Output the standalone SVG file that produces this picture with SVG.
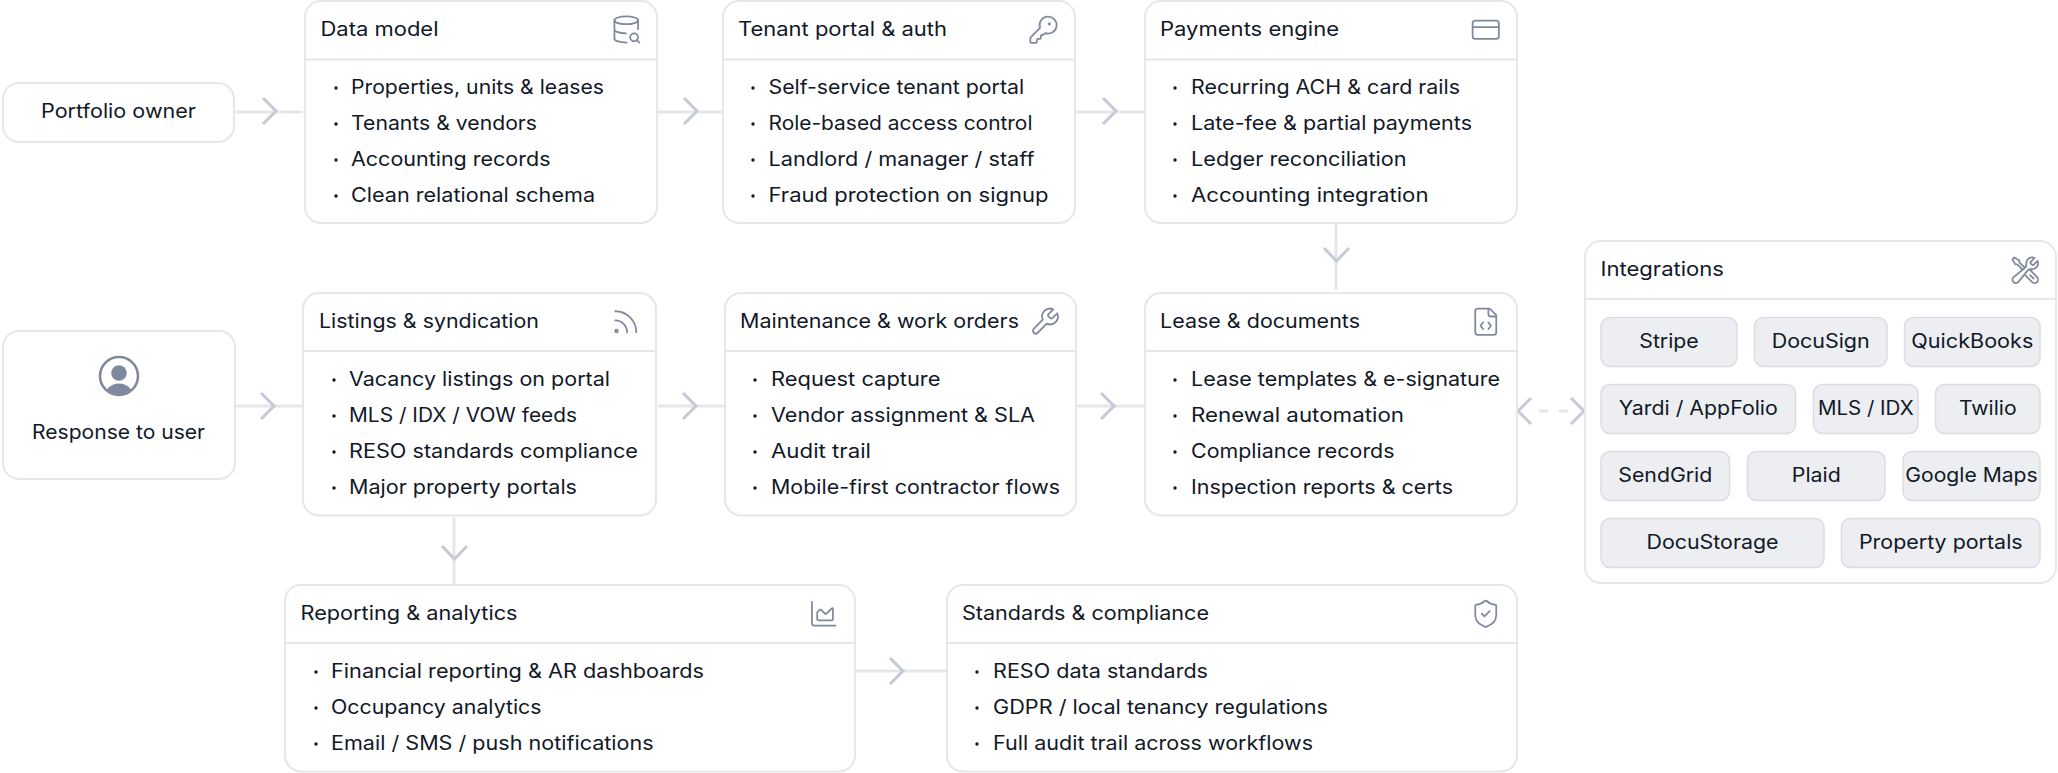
<svg xmlns="http://www.w3.org/2000/svg" width="2058" height="773" viewBox="0 0 2058 773">
<style>
text{font-family:Inter,"Noto Sans","Liberation Sans",sans-serif;font-size:19.5px;fill:#111827}
.m{text-anchor:middle}
.card{fill:#fff;stroke:#e5e7eb;stroke-width:2}
.div{stroke:#e5e7eb;stroke-width:2;fill:none}
.chip{fill:#eceef1;stroke:#dadde4;stroke-width:1.5}
.dot{fill:#111827}
.line{stroke:#e5e7eb;stroke-width:3;fill:none}
.dash{stroke:#e5e7eb;stroke-width:3;fill:none;stroke-dasharray:9 11}
.chev{stroke:#c5cad6;stroke-width:3;fill:none}
.ic{fill:none;stroke:#7f899e;stroke-width:1.350;stroke-linecap:round;stroke-linejoin:round}
</style>
<defs>
<clipPath id="uc"><circle cx="119" cy="376" r="18"/></clipPath>
</defs>
<g id="connectors">
<path class="line" d="M235 112H303"/><path class="chev" d="M263 98L276 111L263 124"/>
<path class="line" d="M658 112H722"/><path class="chev" d="M684 98L697 111L684 124"/>
<path class="line" d="M1076 112H1144"/><path class="chev" d="M1103 98L1116 111L1103 124"/>
<path class="line" d="M1336 224V290"/><path class="chev" d="M1324 248L1336.500 261L1349 248"/>
<path class="line" d="M236 406H302"/><path class="chev" d="M261 393L274 406L261 419"/>
<path class="line" d="M658 406H724"/><path class="chev" d="M683 393L696 406L683 419"/>
<path class="line" d="M1077 406H1144"/><path class="chev" d="M1101 393L1114 406L1101 419"/>
<path class="line" d="M454 517V584"/><path class="chev" d="M442 546L454.500 559L467 546"/>
<path class="line" d="M856 671H946"/><path class="chev" d="M890 658L903 671L890 684"/>
<path class="dash" d="M1539 411H1568"/><path class="chev" d="M1531 398L1518 411L1531 424"/><path class="chev" d="M1571 398L1584 411L1571 424"/>
</g>
<g id="portfolio-owner"><rect class="card" x="3" y="83" width="231" height="59" rx="16"/><text class="m" lengthAdjust="spacingAndGlyphs" x="118.500" y="118" textLength="155">Portfolio owner</text></g>
<g id="response-to-user"><rect class="card" x="3" y="331" width="232" height="148" rx="16"/>
<circle cx="119" cy="376" r="19" fill="none" stroke="#7f899e" stroke-width="2.600"/>
<circle cx="119" cy="373" r="7.800" fill="#7f899e"/>
<g clip-path="url(#uc)"><ellipse cx="119" cy="397" rx="14.500" ry="13.500" fill="#7f899e"/></g>
<text class="m" lengthAdjust="spacingAndGlyphs" x="118.500" y="439" textLength="173">Response to user</text></g>

<g id="data-model"><rect class="card" x="305" y="1" width="352" height="222" rx="16"/><path class="div" d="M305 59.500H657"/>
<text lengthAdjust="spacingAndGlyphs" x="320.500" y="36" textLength="118">Data model</text>
<g class="ic" transform="translate(610.500 13.700) scale(1.3125)"><path d="M21 11.693V5M22 22l-1.875-1.875M3 12a9 3 0 0 0 8.697 2.998M3 5v14a9 3 0 0 0 9.280 2.999"/><circle cx="18" cy="18" r="3"/><ellipse cx="12" cy="5" rx="9" ry="3"/></g>
<circle class="dot" cx="336" cy="88" r="1.700"/><text lengthAdjust="spacingAndGlyphs" x="351" y="94" textLength="253">Properties, units &amp; leases</text>
<circle class="dot" cx="336" cy="124" r="1.700"/><text lengthAdjust="spacingAndGlyphs" x="351" y="130" textLength="186">Tenants &amp; vendors</text>
<circle class="dot" cx="336" cy="160" r="1.700"/><text lengthAdjust="spacingAndGlyphs" x="351" y="166" textLength="199.500">Accounting records</text>
<circle class="dot" cx="336" cy="196" r="1.700"/><text lengthAdjust="spacingAndGlyphs" x="351" y="202" textLength="244">Clean relational schema</text></g>

<g id="tenant-portal"><rect class="card" x="723" y="1" width="352" height="222" rx="16"/><path class="div" d="M723 59.500H1075"/>
<text lengthAdjust="spacingAndGlyphs" x="738" y="36" textLength="209">Tenant portal &amp; auth</text>
<g class="ic" transform="translate(1027.700 14) scale(1.3125)"><path d="M2.586 17.414A2 2 0 0 0 2 18.828V21a1 1 0 0 0 1 1h3a1 1 0 0 0 1-1v-1a1 1 0 0 1 1-1h1a1 1 0 0 0 1-1v-1a1 1 0 0 1 1-1h.172a2 2 0 0 0 1.414-.586l.814-.814a6.500 6.500 0 1 0-4-4z"/><circle cx="16.500" cy="7.500" r=".5"/></g>
<circle class="dot" cx="753" cy="88" r="1.700"/><text lengthAdjust="spacingAndGlyphs" x="768.500" y="94" textLength="255.600">Self-service tenant portal</text>
<circle class="dot" cx="753" cy="124" r="1.700"/><text lengthAdjust="spacingAndGlyphs" x="768.500" y="130" textLength="264">Role-based access control</text>
<circle class="dot" cx="753" cy="160" r="1.700"/><text lengthAdjust="spacingAndGlyphs" x="768.500" y="166" textLength="266">Landlord / manager / staff</text>
<circle class="dot" cx="753" cy="196" r="1.700"/><text lengthAdjust="spacingAndGlyphs" x="768.500" y="202" textLength="280">Fraud protection on signup</text></g>

<g id="payments-engine"><rect class="card" x="1145" y="1" width="372" height="222" rx="16"/><path class="div" d="M1145 59.500H1517"/>
<text lengthAdjust="spacingAndGlyphs" x="1160" y="36" textLength="179">Payments engine</text>
<g class="ic" transform="translate(1470 14) scale(1.3125)"><rect x="2" y="5" width="20" height="14" rx="2"/><path d="M2 10h20"/></g>
<circle class="dot" cx="1175" cy="88" r="1.700"/><text lengthAdjust="spacingAndGlyphs" x="1191" y="94" textLength="269">Recurring ACH &amp; card rails</text>
<circle class="dot" cx="1175" cy="124" r="1.700"/><text lengthAdjust="spacingAndGlyphs" x="1191" y="130" textLength="281">Late-fee &amp; partial payments</text>
<circle class="dot" cx="1175" cy="160" r="1.700"/><text lengthAdjust="spacingAndGlyphs" x="1191" y="166" textLength="215.600">Ledger reconciliation</text>
<circle class="dot" cx="1175" cy="196" r="1.700"/><text lengthAdjust="spacingAndGlyphs" x="1191" y="202" textLength="237.500">Accounting integration</text></g>

<g id="listings"><rect class="card" x="303" y="293" width="353" height="222.500" rx="16"/><path class="div" d="M303 351H656"/>
<text lengthAdjust="spacingAndGlyphs" x="319" y="328" textLength="220">Listings &amp; syndication</text>
<g class="ic" transform="translate(610 306) scale(1.3125)"><path d="M4 11a9 9 0 0 1 9 9M4 4a16 16 0 0 1 16 16"/><circle cx="5" cy="19" r="1"/></g>
<circle class="dot" cx="334" cy="380" r="1.700"/><text lengthAdjust="spacingAndGlyphs" x="349" y="386" textLength="261">Vacancy listings on portal</text>
<circle class="dot" cx="334" cy="416" r="1.700"/><text lengthAdjust="spacingAndGlyphs" x="349" y="422" textLength="228">MLS / IDX / VOW feeds</text>
<circle class="dot" cx="334" cy="452" r="1.700"/><text lengthAdjust="spacingAndGlyphs" x="349" y="458" textLength="289">RESO standards compliance</text>
<circle class="dot" cx="334" cy="488" r="1.700"/><text lengthAdjust="spacingAndGlyphs" x="349" y="494" textLength="228">Major property portals</text></g>

<g id="maintenance"><rect class="card" x="725" y="293" width="351" height="222.500" rx="16"/><path class="div" d="M725 351H1076"/>
<text lengthAdjust="spacingAndGlyphs" x="740" y="328" textLength="279">Maintenance &amp; work orders</text>
<g class="ic" transform="translate(1029 306) scale(1.3125)"><path d="M14.700 6.300a1 1 0 0 0 0 1.400l1.600 1.600a1 1 0 0 0 1.400 0l3.770-3.770a6 6 0 0 1-7.940 7.940l-6.910 6.910a2.120 2.120 0 0 1-3-3l6.910-6.910a6 6 0 0 1 7.940-7.940l-3.760 3.760z"/></g>
<circle class="dot" cx="755" cy="380" r="1.700"/><text lengthAdjust="spacingAndGlyphs" x="771" y="386" textLength="169.500">Request capture</text>
<circle class="dot" cx="755" cy="416" r="1.700"/><text lengthAdjust="spacingAndGlyphs" x="771" y="422" textLength="264">Vendor assignment &amp; SLA</text>
<circle class="dot" cx="755" cy="452" r="1.700"/><text lengthAdjust="spacingAndGlyphs" x="771" y="458" textLength="100">Audit trail</text>
<circle class="dot" cx="755" cy="488" r="1.700"/><text lengthAdjust="spacingAndGlyphs" x="771" y="494" textLength="289">Mobile-first contractor flows</text></g>

<g id="lease-documents"><rect class="card" x="1145" y="293" width="372" height="222.500" rx="16"/><path class="div" d="M1145 351H1517"/>
<text lengthAdjust="spacingAndGlyphs" x="1160" y="328" textLength="200">Lease &amp; documents</text>
<g class="ic" transform="translate(1470 306) scale(1.3125)"><path d="M10 12.500 8 15l2 2.500M14 12.500l2 2.500-2 2.500M14 2v4a2 2 0 0 0 2 2h4M15 2H6a2 2 0 0 0-2 2v16a2 2 0 0 0 2 2h12a2 2 0 0 0 2-2V7z"/></g>
<circle class="dot" cx="1175" cy="380" r="1.700"/><text lengthAdjust="spacingAndGlyphs" x="1191" y="386" textLength="309">Lease templates &amp; e-signature</text>
<circle class="dot" cx="1175" cy="416" r="1.700"/><text lengthAdjust="spacingAndGlyphs" x="1191" y="422" textLength="213">Renewal automation</text>
<circle class="dot" cx="1175" cy="452" r="1.700"/><text lengthAdjust="spacingAndGlyphs" x="1191" y="458" textLength="203.500">Compliance records</text>
<circle class="dot" cx="1175" cy="488" r="1.700"/><text lengthAdjust="spacingAndGlyphs" x="1191" y="494" textLength="262">Inspection reports &amp; certs</text></g>

<g id="reporting"><rect class="card" x="285" y="585" width="570" height="186.500" rx="16"/><path class="div" d="M285 643H855"/>
<text lengthAdjust="spacingAndGlyphs" x="300.500" y="620" textLength="217">Reporting &amp; analytics</text>
<g class="ic" transform="translate(808 598) scale(1.3125)"><path d="M3 3v16a2 2 0 0 0 2 2h16M7 11.207a.5.5 0 0 1 .146-.353l2-2a.5.5 0 0 1 .708 0l3.292 3.292a.5.5 0 0 0 .708 0l4.292-4.292a.5.5 0 0 1 .854.353V16a1 1 0 0 1-1 1H8a1 1 0 0 1-1-1z"/></g>
<circle class="dot" cx="316" cy="672" r="1.700"/><text lengthAdjust="spacingAndGlyphs" x="331" y="678" textLength="373">Financial reporting &amp; AR dashboards</text>
<circle class="dot" cx="316" cy="708" r="1.700"/><text lengthAdjust="spacingAndGlyphs" x="331" y="714" textLength="210.500">Occupancy analytics</text>
<circle class="dot" cx="316" cy="744" r="1.700"/><text lengthAdjust="spacingAndGlyphs" x="331" y="750" textLength="322.600">Email / SMS / push notifications</text></g>

<g id="standards"><rect class="card" x="947" y="585" width="570" height="186.500" rx="16"/><path class="div" d="M947 643H1517"/>
<text lengthAdjust="spacingAndGlyphs" x="962" y="620" textLength="247">Standards &amp; compliance</text>
<g class="ic" transform="translate(1470 598) scale(1.3125)"><path d="M20 13c0 5-3.500 7.500-7.660 8.950a1 1 0 0 1-.67-.01C7.500 20.500 4 18 4 13V6a1 1 0 0 1 1-1c2 0 4.500-1.200 6.240-2.720a1.170 1.170 0 0 1 1.520 0C14.510 3.810 17 5 19 5a1 1 0 0 1 1 1zM9 12l2 2 4-4"/></g>
<circle class="dot" cx="977" cy="672" r="1.700"/><text lengthAdjust="spacingAndGlyphs" x="993" y="678" textLength="215">RESO data standards</text>
<circle class="dot" cx="977" cy="708" r="1.700"/><text lengthAdjust="spacingAndGlyphs" x="993" y="714" textLength="335">GDPR / local tenancy regulations</text>
<circle class="dot" cx="977" cy="744" r="1.700"/><text lengthAdjust="spacingAndGlyphs" x="993" y="750" textLength="320">Full audit trail across workflows</text></g>

<g id="integrations"><rect class="card" x="1585" y="241" width="471" height="342" rx="16"/><path class="div" d="M1585 299H2056"/>
<text lengthAdjust="spacingAndGlyphs" x="1600.500" y="276" textLength="123.500">Integrations</text>
<g class="ic" transform="translate(2009.500 254.500) scale(1.3125)"><path d="M11.420 15.170 17.250 21A2.652 2.652 0 0 0 21 17.250l-5.877-5.877M11.420 15.170l2.496-3.030c.317-.384.740-.626 1.208-.766M11.420 15.170l-4.655 5.653a2.548 2.548 0 1 1-3.586-3.586l6.837-5.630m5.108-.233c.550-.164 1.163-.188 1.743-.140a4.500 4.500 0 0 0 4.486-6.336l-3.276 3.277a3.004 3.004 0 0 1-2.250-2.250l3.276-3.276a4.500 4.500 0 0 0-6.336 4.486c.091 1.076-.071 2.264-.904 2.950l-.102.085m-1.745 1.437L5.909 7.500H4.500L2.250 3.750l1.500-1.500L7.500 4.500v1.409l4.260 4.260m-1.745 1.437 1.745-1.437m6.615 8.206L15.750 15.750"/></g>
<g id="chip-stripe"><rect class="chip" x="1601" y="317.500" width="136" height="49" rx="9"/><text class="m" lengthAdjust="spacingAndGlyphs" x="1669" y="347.500" textLength="59.400">Stripe</text></g>
<g id="chip-docusign"><rect class="chip" x="1754.500" y="317.500" width="132.500" height="49" rx="9"/><text class="m" lengthAdjust="spacingAndGlyphs" x="1820.700" y="347.500" textLength="98">DocuSign</text></g>
<g id="chip-quickbooks"><rect class="chip" x="1904.500" y="317.500" width="135.500" height="49" rx="9"/><text class="m" lengthAdjust="spacingAndGlyphs" x="1972.300" y="347.500" textLength="122">QuickBooks</text></g>
<g id="chip-yardi"><rect class="chip" x="1601" y="384.500" width="194.500" height="49" rx="9"/><text class="m" lengthAdjust="spacingAndGlyphs" x="1698.300" y="414.500" textLength="159">Yardi / AppFolio</text></g>
<g id="chip-mls"><rect class="chip" x="1813.500" y="384.500" width="104.500" height="49" rx="9"/><text class="m" lengthAdjust="spacingAndGlyphs" x="1865.800" y="414.500" textLength="95.700">MLS / IDX</text></g>
<g id="chip-twilio"><rect class="chip" x="1935.500" y="384.500" width="104.500" height="49" rx="9"/><text class="m" lengthAdjust="spacingAndGlyphs" x="1987.800" y="414.500" textLength="57.600">Twilio</text></g>
<g id="chip-sendgrid"><rect class="chip" x="1601" y="451.500" width="128.500" height="49" rx="9"/><text class="m" lengthAdjust="spacingAndGlyphs" x="1665.300" y="481.500" textLength="94">SendGrid</text></g>
<g id="chip-plaid"><rect class="chip" x="1747.500" y="451.500" width="137.500" height="49" rx="9"/><text class="m" lengthAdjust="spacingAndGlyphs" x="1816.300" y="481.500" textLength="49">Plaid</text></g>
<g id="chip-gmaps"><rect class="chip" x="1903" y="451.500" width="137" height="49" rx="9"/><text class="m" lengthAdjust="spacingAndGlyphs" x="1971.500" y="481.500" textLength="132.400">Google Maps</text></g>
<g id="chip-docustorage"><rect class="chip" x="1601" y="518.500" width="223" height="49" rx="9"/><text class="m" lengthAdjust="spacingAndGlyphs" x="1712.500" y="548.500" textLength="132">DocuStorage</text></g>
<g id="chip-portals"><rect class="chip" x="1841.500" y="518.500" width="198.500" height="49" rx="9"/><text class="m" lengthAdjust="spacingAndGlyphs" x="1940.800" y="548.500" textLength="163.700">Property portals</text></g>
</g>
</svg>
